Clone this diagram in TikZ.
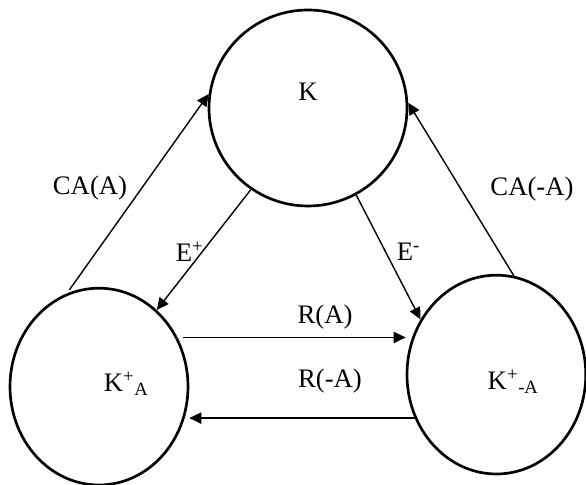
\documentclass[tikz,border=0pt]{standalone}
\usepackage{fontspec}
\setmainfont{Liberation Serif}
\usetikzlibrary{arrows.meta,shapes,positioning}

\begin{document}
\begin{tikzpicture}[font=\fontsize{19}{23}\selectfont,
    state/.style={ellipse, draw, line width=1.9pt, inner sep=0pt},
    trans/.style={-{Triangle[length=8.5pt,width=8pt]}, line width=1pt}]
    \useasboundingbox (0,0) rectangle (14.65,12.125);

    % States
    \node[state, minimum width=4.95cm, minimum height=4.9cm, label={[yshift=0.4cm]center:K}] (k) at (7.7,9.425) {};
    \node[state, minimum width=4.45cm, minimum height=4.92cm, label={[xshift=0.68cm, yshift=0.08cm]center:K\textsuperscript{+}\textsubscript{A}}] (kA) at (2.475,2.46) {};
    \node[state, minimum width=4.47cm, minimum height=4.97cm, label={[xshift=0.42cm, yshift=-0.18cm]center:K\textsuperscript{+}\textsubscript{-A}}] (kmA) at (12.41,2.76) {};

    % Arrows
    \draw[trans, shorten <=3pt] (kA.109) -- (k.172);
    \draw[trans] (kmA.80) -- (k.3);
    \draw[trans] (k.235) -- (kA.53);
    \draw[trans] (k.-61) -- (kmA.144);
    \draw[trans, shorten <=4pt] (kA.32) -- (kA.32 -| kmA.west);
    \draw[trans] (kmA.208) -- (kmA.208 -| kA.east);

    % Labels
    \node (caA) at (2.25,7.43) {CA(A)};
    \node (camA) at (13.3,7.4) {CA(-A)};
    \node (ep) at (4.74,5.83) {E\textsuperscript{+}};
    \node (em) at (10.21,5.83) {E\textsuperscript{-}};
    \node (rA) at (8.125,4.2) {R(A)};
    \node (rmA) at (8.25,2.6) {R(-A)};
\end{tikzpicture}
\end{document}
